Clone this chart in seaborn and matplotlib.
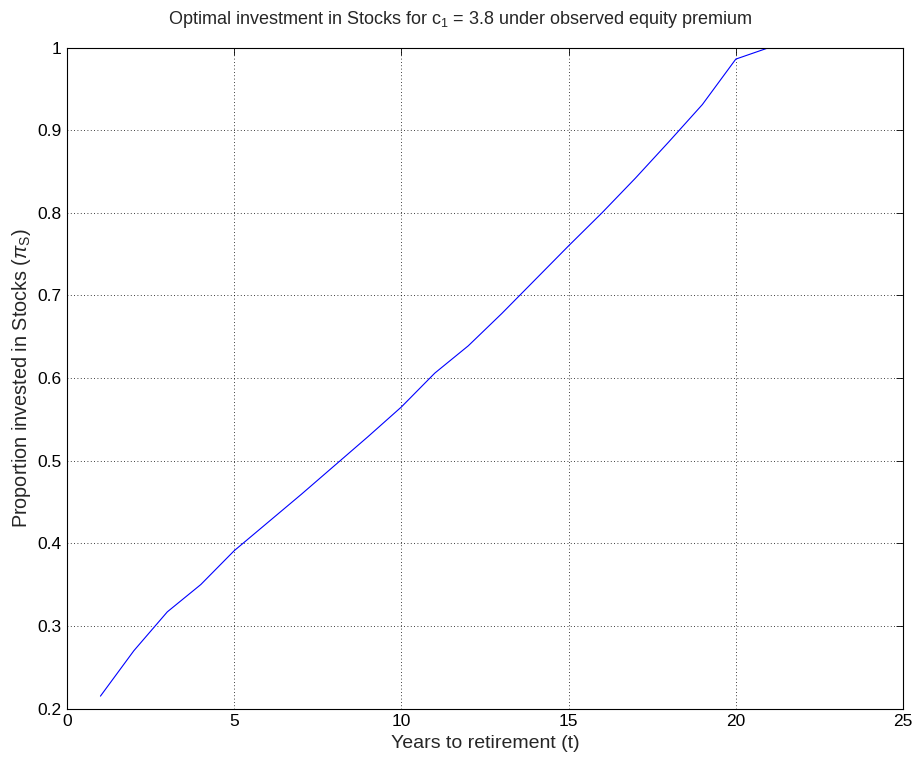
import matplotlib
matplotlib.use("Agg")
import matplotlib.pyplot as plt
import seaborn as sns
import pandas as pd

years = list(range(1, 22))
proportion = [0.215, 0.270, 0.317, 0.350, 0.391, 0.425, 0.459, 0.494, 0.529, 0.565,
              0.606, 0.639, 0.678, 0.719, 0.760, 0.800, 0.842, 0.886, 0.931, 0.986, 1.000]
xticks = [0, 5, 10, 15, 20, 25]
yticks = [0.2, 0.3, 0.4, 0.5, 0.6, 0.7, 0.8, 0.9, 1.0]
ytick_labels = ["0.2", "0.3", "0.4", "0.5", "0.6", "0.7", "0.8", "0.9", "1"]

df = pd.DataFrame({"t": years, "pi": proportion})

sns.set_style("white")
plt.rcParams['font.family'] = ['Liberation Sans', 'DejaVu Sans']
plt.rcParams['mathtext.fontset'] = 'custom'
plt.rcParams['mathtext.rm'] = 'Liberation Sans'
plt.rcParams['mathtext.it'] = 'Liberation Sans:italic'

fig = plt.figure(figsize=(9.19, 7.63), dpi=100)
ax = fig.add_axes([0.0729, 0.0714, 0.9097, 0.8663])

sns.lineplot(data=df, x="t", y="pi", ax=ax, color=(0, 0, 1), linewidth=0.8)

ax.set_xlim(0, 25)
ax.set_ylim(0.2, 1.0)
ax.set_xticks(xticks)
ax.set_xticklabels([str(v) for v in xticks])
ax.set_yticks(yticks)
ax.set_yticklabels(ytick_labels)
ax.grid(True, color="black", linestyle=(0, (1, 3)), linewidth=0.6)
ax.tick_params(direction="in", length=5, width=0.6, top=True, right=True,
               labelsize=12.5, colors="black", pad=4)
for s in ax.spines.values():
    s.set_color("black")
    s.set_linewidth(0.8)
    s.set_visible(True)

ax.set_xlabel("Years to retirement (t)", fontsize=14, labelpad=4)
ax.set_ylabel(r"Proportion invested in Stocks ($\pi_{\rm S}$)", fontsize=14.3, labelpad=3)
ax.set_title(r"Optimal investment in Stocks for c$_{\rm 1}$ = 3.8 under observed equity premium",
             fontsize=13, pad=17, x=0.47)

fig.savefig("out.png", dpi=100)
